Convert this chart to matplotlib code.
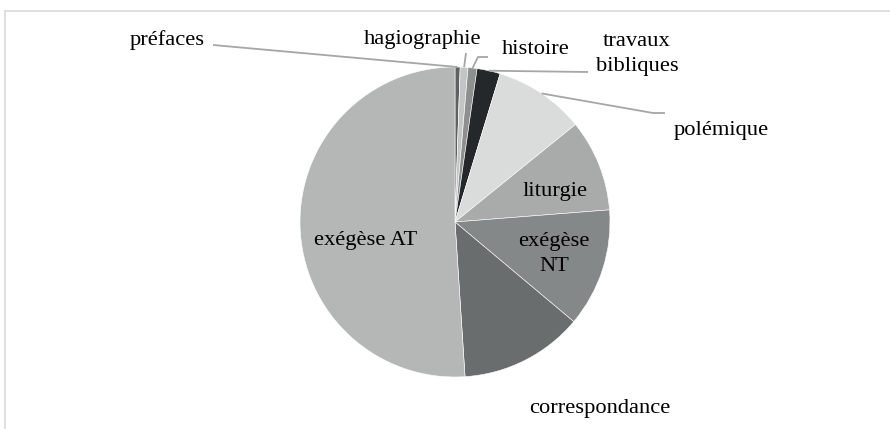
import numpy as np
import matplotlib
matplotlib.use("Agg")
import matplotlib.pyplot as plt
from matplotlib.patches import Rectangle

# slice data (share of total, %), clockwise from 12 o'clock
categories = ["préfaces", "hagiographie", "histoire", "travaux\nbibliques",
              "polémique", "liturgie", "exégèse\nNT", "correspondance", "exégèse AT"]
values = [0.53, 0.81, 0.94, 2.42, 9.47, 9.58, 12.36, 12.86, 51.03]
colors = ["#5e6061", "#c3c4c4", "#8e9090", "#24282b", "#dadbdb",
          "#a9abab", "#858888", "#6a6d6d", "#b5b6b6"]

W, H = 890, 429
CX, CY, R = 455, 222, 155


def px(x, y):
    """pixel position (from top-left) -> data coords (radius = 1)"""
    return (x - CX) / R, (CY - y) / R


plt.rcParams["font.family"] = ["Liberation Serif", "DejaVu Serif"]

fig = plt.figure(figsize=(W / 100, H / 100), dpi=100)
ax = fig.add_axes([0, 0, 1, 1])

wedges, _ = ax.pie(values, colors=colors, startangle=90, counterclock=False,
                   radius=1, center=(0, 0), frame=True,
                   wedgeprops=dict(edgecolor="white", linewidth=0.4))
ax.set_xlim(-CX / R, (W - CX) / R)
ax.set_ylim(-(H - CY) / R, CY / R)
ax.set_aspect("auto")
ax.axis("off")

# label layout: (text centre in px, leader path in px or None)
layout = {
    "préfaces": ((167, 40), [(213, 45)]),
    "hagiographie": ((423, 40), [(466, 53)]),
    "histoire": ((536, 50), [(478, 57), (488, 57)]),
    "travaux\nbibliques": ((637, 54), [(588, 72)]),
    "polémique": ((721, 131), [(653, 113), (665, 113)]),
    "liturgie": ((555, 192), None),
    "exégèse\nNT": ((554, 254), None),
    "correspondance": ((600, 408), None),
    "exégèse AT": ((366, 241), None),
}

lead_col = "#a6a6a6"
for w, name in zip(wedges, categories):
    (tx, ty), path = layout[name]
    ax.text(*px(tx, ty), name, ha="center", va="center", fontsize=16.2,
            color="black", linespacing=1.45)
    if path:
        mid = np.deg2rad((w.theta1 + w.theta2) / 2)
        start = (np.cos(mid), np.sin(mid))
        pts = [start] + [px(x, y) for x, y in path]
        xs, ys = zip(*pts)
        ax.plot(xs, ys, color=lead_col, lw=1.3, solid_capstyle="butt")

# chart area border (cut off at right and bottom)
fig.patches.append(Rectangle((4.5 / W, -0.1), 1.2, 1 - 10.5 / H + 0.1,
                             transform=fig.transFigure, fill=False,
                             edgecolor="#d9d9d9", linewidth=1.2))

fig.savefig("out.png", dpi=100)
